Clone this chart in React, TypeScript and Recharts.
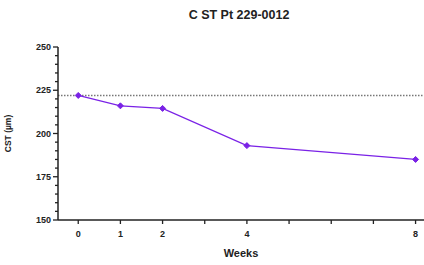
import React from "react";
import {
  LineChart,
  Line,
  XAxis,
  YAxis,
  ReferenceLine,
  Label,
} from "recharts";

const weeks = [0, 1, 2, 4, 8];
const cst = [222, 216, 214.5, 193, 185];
const baseline = 222;

const xTicks = [0, 1, 2, 3, 4, 5, 6, 7, 8];
const xLabels = [0, 1, 2, 4, 8];
const yTicks = [
  150, 155, 160, 165, 170, 175, 180, 185, 190, 195, 200, 205, 210, 215, 220,
  225, 230, 235, 240, 245, 250,
];

const FONT = "'Liberation Sans', Arial, sans-serif";
const PURPLE = "#7a22e6";

const data = weeks.map((w, i) => ({ week: w, cst: cst[i] }));

function XTick(props: any) {
  const { x, y, payload } = props;
  const v = payload.value;
  return (
    <g>
      <line x1={x} x2={x} y1={y} y2={y + 4} stroke="#222" strokeWidth={1.3} />
      {xLabels.includes(v) && (
        <text
          x={x}
          y={y + 17}
          textAnchor="middle"
          fontSize={9}
          fontWeight="bold"
          fill="#222"
          fontFamily={FONT}
        >
          {v}
        </text>
      )}
    </g>
  );
}

function YTick(props: any) {
  const { x, y, payload } = props;
  const v = payload.value;
  const major = v % 25 === 0;
  const len = major ? 5 : 3;
  return (
    <g>
      <line x1={x - len} x2={x} y1={y} y2={y} stroke="#222" strokeWidth={1.3} />
      {major && (
        <text
          x={x - 7}
          y={y + 3}
          textAnchor="end"
          fontSize={9}
          fontWeight="bold"
          fill="#222"
          fontFamily={FONT}
        >
          {v}
        </text>
      )}
    </g>
  );
}

function Diamond(props: any) {
  const { cx, cy } = props;
  if (cx == null || cy == null) return null;
  const r = 3;
  return (
    <polygon
      points={`${cx},${cy - r} ${cx + r},${cy} ${cx},${cy + r} ${cx - r},${cy}`}
      fill={PURPLE}
      stroke={PURPLE}
    />
  );
}

export default function App() {
  return (
    <div style={{ position: "absolute", left: 0, top: 0, width: 424, height: 265, background: "#fff" }}>
      <div
        style={{
          position: "absolute",
          top: 8,
          left: 0,
          width: 424,
          paddingLeft: 54,
          boxSizing: "border-box",
          textAlign: "center",
          fontFamily: FONT,
          fontWeight: "bold",
          fontSize: 12.5,
          color: "#222",
        }}
      >
        C ST Pt 229-0012
      </div>
      <LineChart
        width={424}
        height={265}
        data={data}
        margin={{ top: 47, right: 0, bottom: 0, left: 0 }}
      >
        <XAxis
          dataKey="week"
          type="number"
          domain={[-0.48, 8.2]}
          ticks={xTicks}
          interval={0}
          height={45}
          tickSize={0}
          tickMargin={0}
          tickLine={false}
          tick={<XTick />}
          axisLine={{ stroke: "#222", strokeWidth: 1.5 }}
          allowDataOverflow
        >
          <Label
            value="Weeks"
            position="insideBottom"
            offset={8}
            style={{ fontFamily: FONT, fontSize: 11, fontWeight: "bold", fill: "#222" }}
          />
        </XAxis>
        <YAxis
          type="number"
          domain={[150, 250]}
          ticks={yTicks}
          interval={0}
          width={58}
          tickSize={0}
          tickMargin={0}
          tickLine={false}
          tick={<YTick />}
          axisLine={{ stroke: "#222", strokeWidth: 1.5 }}
        >
          <Label
            value="CST (µm)"
            angle={-90}
            position="insideLeft"
            offset={8}
            style={{ fontFamily: FONT, fontSize: 8.5, fontWeight: "bold", fill: "#222", textAnchor: "middle" }}
          />
        </YAxis>
        <ReferenceLine
          y={baseline}
          stroke="#777"
          strokeWidth={1.5}
          strokeDasharray="1.5 1.5"
        />
        <Line
          type="linear"
          dataKey="cst"
          stroke={PURPLE}
          strokeWidth={1.3}
          dot={<Diamond />}
          activeDot={false}
          isAnimationActive={false}
        />
      </LineChart>
    </div>
  );
}
